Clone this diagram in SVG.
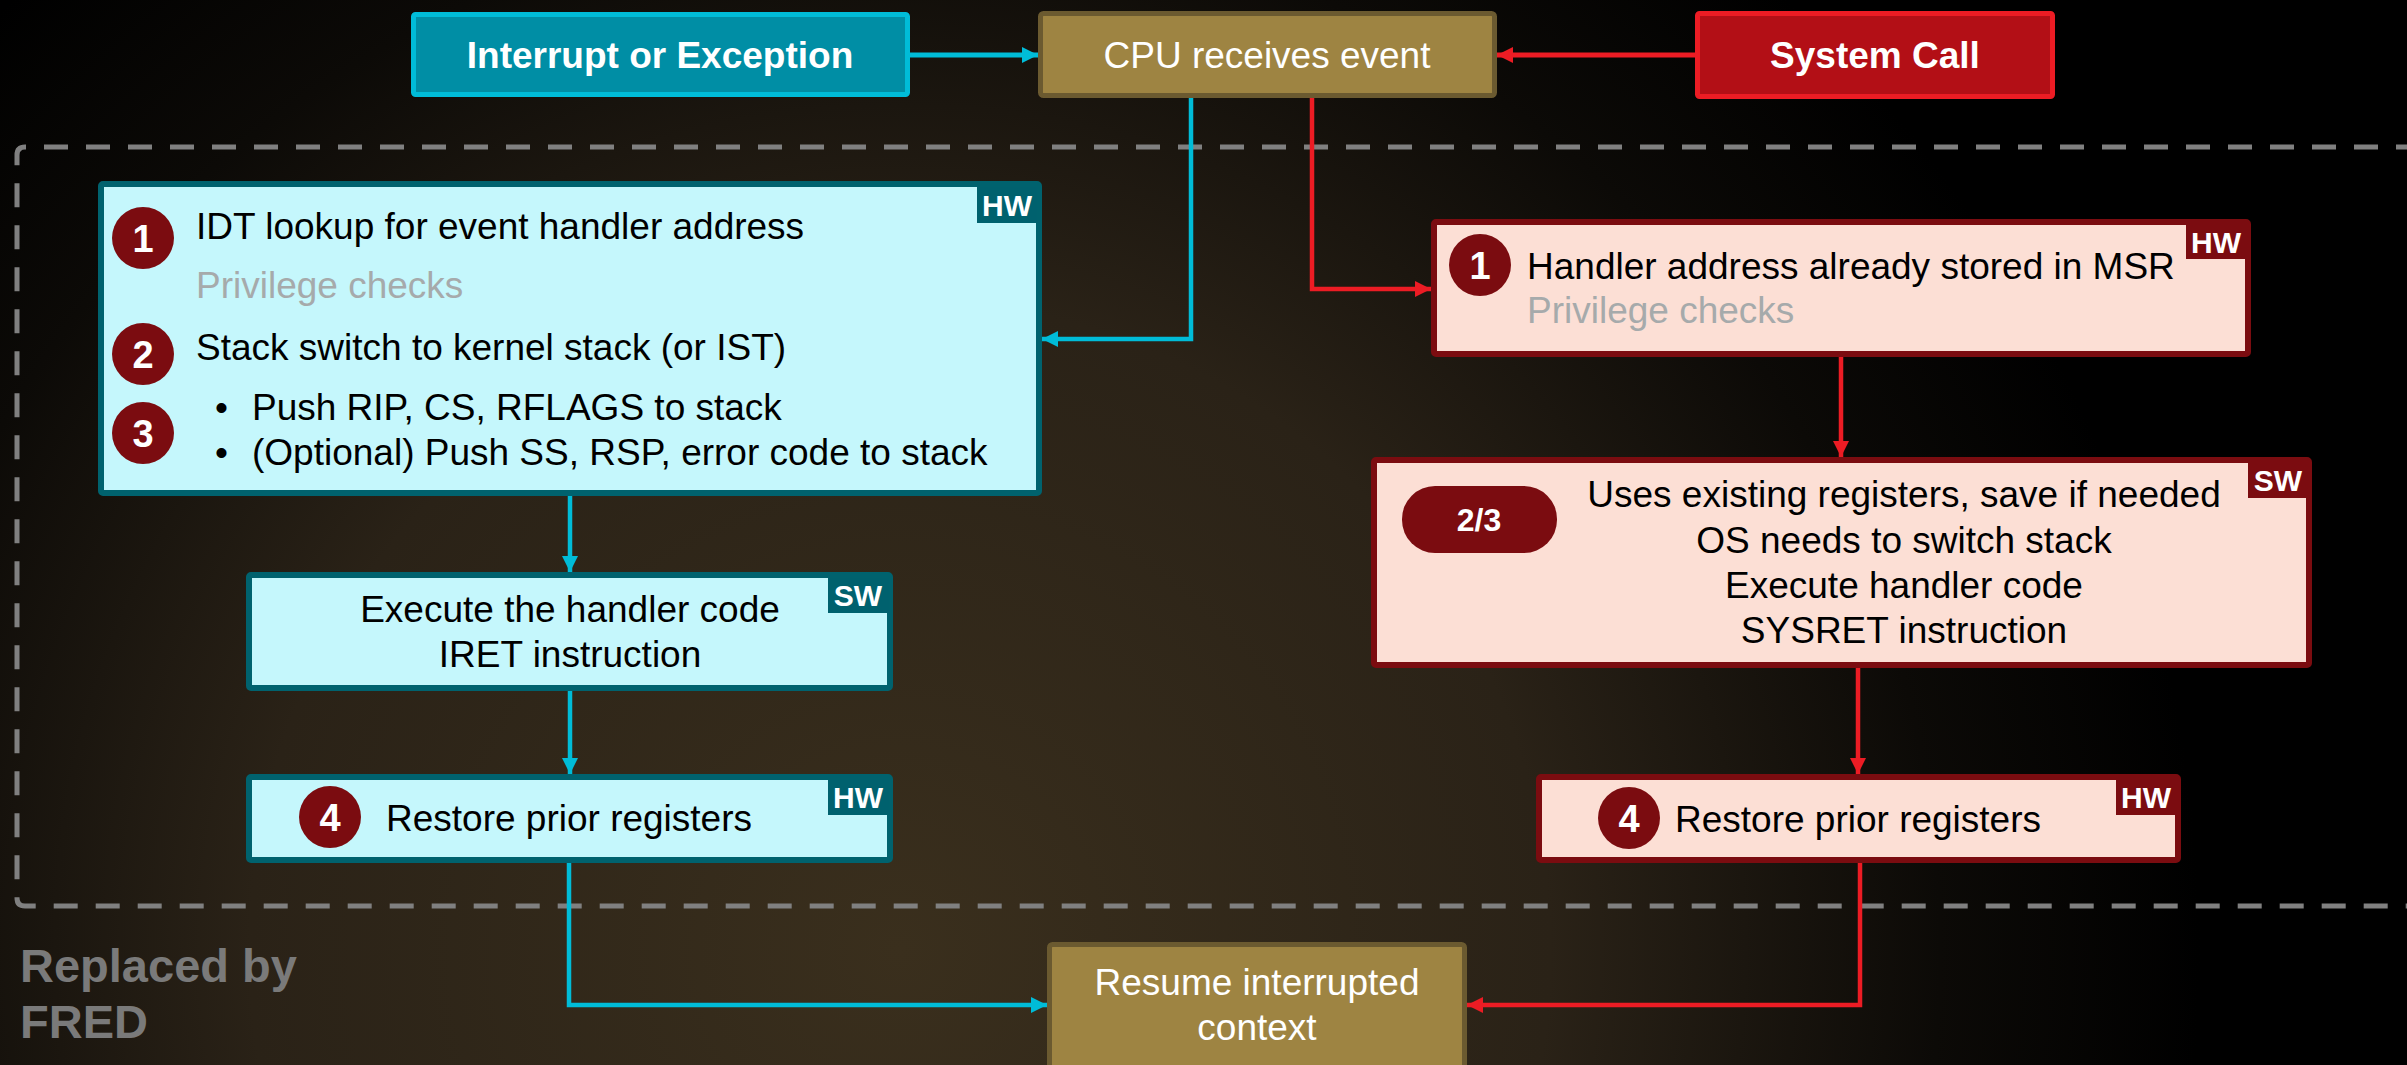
<svg xmlns="http://www.w3.org/2000/svg" width="2407" height="1065" viewBox="0 0 2407 1065">
<defs>
<radialGradient id="bg" gradientUnits="userSpaceOnUse" cx="900" cy="950" r="1300">
<stop offset="0" stop-color="#3a2f1d"/>
<stop offset="0.5" stop-color="#2a2217"/>
<stop offset="0.8" stop-color="#0c0a07"/>
<stop offset="1" stop-color="#000000"/>
</radialGradient>
<marker id="ac" markerUnits="userSpaceOnUse" markerWidth="17" markerHeight="17" refX="16" refY="8" orient="auto"><path d="M0,0 L16,8 L0,16 z" fill="#00bcd8"/></marker>
<marker id="ar" markerUnits="userSpaceOnUse" markerWidth="17" markerHeight="17" refX="16" refY="8" orient="auto"><path d="M0,0 L16,8 L0,16 z" fill="#ec1c24"/></marker>
<style>
text{font-family:"Liberation Sans",Arial,sans-serif}
.body{font-size:37px;fill:#000}
.gray{font-size:37px;fill:#a6aaab}
.num{font-size:38px;font-weight:bold;fill:#fff;text-anchor:middle}
.pill{font-size:32px;font-weight:bold;fill:#fff;text-anchor:middle}
.badge{font-size:30px;font-weight:bold;fill:#fff;text-anchor:middle}
.title{font-size:37px;font-weight:bold;fill:#fff;text-anchor:middle}
.ctr{text-anchor:middle}
.cyanbox{fill:#c5f7fc;stroke:#00626e;stroke-width:6}
.redbox{fill:#fcdfd5;stroke:#7b0c10;stroke-width:6}
.goldbox{fill:#9e8442;stroke:#6b5a30;stroke-width:5}
.cb{fill:#00616e}
.rb{fill:#7b0c10}
.circ{fill:#7b0c10}
.cl{fill:none;stroke:#00bcd8;stroke-width:4.5}
.rl{fill:none;stroke:#ec1c24;stroke-width:4.5}
</style>
</defs>
<rect x="0" y="0" width="2407" height="1065" fill="url(#bg)"/>

<path d="M2420 147 H25 Q17 147 17 155 V898 Q17 906 25 906 H2420" fill="none" stroke="#808080" stroke-width="5" stroke-dasharray="24 18"/>
<text x="20" y="982" font-size="47" font-weight="bold" fill="#7a7a7a">Replaced by</text>
<text x="20" y="1038" font-size="47" font-weight="bold" fill="#7a7a7a">FRED</text>

<g id="connectors">
<path class="cl" d="M910 55 H1038" marker-end="url(#ac)" style="stroke-width:5"/>
<path class="rl" d="M1695 55 H1497" marker-end="url(#ar)" style="stroke-width:5"/>
<path class="cl" d="M1191 98 V339 H1042" marker-end="url(#ac)"/>
<path class="rl" d="M1312 98 V289 H1431" marker-end="url(#ar)"/>
<path class="cl" d="M570 496 V572" marker-end="url(#ac)"/>
<path class="cl" d="M570 691 V774" marker-end="url(#ac)"/>
<path class="cl" d="M569 863 V1005 H1047" marker-end="url(#ac)"/>
<path class="rl" d="M1841 357 V457" marker-end="url(#ar)"/>
<path class="rl" d="M1858 668 V774" marker-end="url(#ar)"/>
<path class="rl" d="M1860 863 V1005 H1467" marker-end="url(#ar)"/>
</g>

<g id="interrupt">
<rect x="413.5" y="14.5" width="494" height="80" rx="2" fill="#008ea5" stroke="#00bcd8" stroke-width="5"/>
<text class="title" x="660" y="68">Interrupt or Exception</text>
</g>

<g id="cpu">
<rect class="goldbox" x="1040.5" y="13.5" width="454" height="82" rx="3"/>
<text class="ctr" x="1267" y="68" font-size="37" fill="#fff">CPU receives event</text>
</g>

<g id="syscall">
<rect x="1697.5" y="13.5" width="355" height="83" rx="2" fill="#b30f16" stroke="#ec1c24" stroke-width="5"/>
<text class="title" x="1875" y="68">System Call</text>
</g>

<g id="idt-hw">
<rect class="cyanbox" x="101" y="184" width="938" height="309" rx="2"/>
<rect class="cb" x="977" y="187" width="60" height="36"/>
<text class="badge" x="1007" y="216">HW</text>
<circle class="circ" cx="143" cy="238" r="31"/>
<text class="num" x="143" y="252">1</text>
<text class="body" x="196" y="239">IDT lookup for event handler address</text>
<text class="gray" x="196" y="298">Privilege checks</text>
<circle class="circ" cx="143" cy="354" r="31"/>
<text class="num" x="143" y="368">2</text>
<text class="body" x="196" y="360">Stack switch to kernel stack (or IST)</text>
<circle class="circ" cx="143" cy="433" r="31"/>
<text class="num" x="143" y="447">3</text>
<text class="body" x="215" y="420">•</text>
<text class="body" x="252" y="420">Push RIP, CS, RFLAGS to stack</text>
<text class="body" x="215" y="465">•</text>
<text class="body" x="252" y="465">(Optional) Push SS, RSP, error code to stack</text>
</g>

<g id="exec-sw">
<rect class="cyanbox" x="249" y="575" width="641" height="113" rx="2"/>
<rect class="cb" x="828" y="578" width="61" height="35"/>
<text class="badge" x="858" y="606">SW</text>
<text class="body ctr" x="570" y="622">Execute the handler code</text>
<text class="body ctr" x="570" y="667">IRET instruction</text>
</g>

<g id="restore-left">
<rect class="cyanbox" x="249" y="777" width="641" height="83" rx="2"/>
<rect class="cb" x="828" y="780" width="61" height="35"/>
<text class="badge" x="858" y="808">HW</text>
<circle class="circ" cx="330" cy="817" r="31"/>
<text class="num" x="330" y="831">4</text>
<text class="body" x="386" y="831">Restore prior registers</text>
</g>

<g id="msr-hw">
<rect class="redbox" x="1434" y="222" width="814" height="132" rx="2"/>
<rect class="rb" x="2186" y="225" width="61" height="34"/>
<text class="badge" x="2216" y="253">HW</text>
<circle class="circ" cx="1480" cy="265" r="31"/>
<text class="num" x="1480" y="279">1</text>
<text class="body" x="1527" y="279">Handler address already stored in MSR</text>
<text class="gray" x="1527" y="323">Privilege checks</text>
</g>

<g id="syscall-sw">
<rect class="redbox" x="1374" y="460" width="935" height="205" rx="2"/>
<rect class="rb" x="2248" y="463" width="60" height="35"/>
<text class="badge" x="2278" y="491">SW</text>
<rect class="circ" x="1402" y="486" width="155" height="67" rx="33"/>
<text class="pill" x="1479" y="531">2/3</text>
<text class="body ctr" x="1904" y="507">Uses existing registers, save if needed</text>
<text class="body ctr" x="1904" y="553">OS needs to switch stack</text>
<text class="body ctr" x="1904" y="598">Execute handler code</text>
<text class="body ctr" x="1904" y="643">SYSRET instruction</text>
</g>

<g id="restore-right">
<rect class="redbox" x="1539" y="777" width="639" height="83" rx="2"/>
<rect class="rb" x="2116" y="780" width="61" height="35"/>
<text class="badge" x="2146" y="808">HW</text>
<circle class="circ" cx="1629" cy="818" r="31"/>
<text class="num" x="1629" y="832">4</text>
<text class="body" x="1675" y="832">Restore prior registers</text>
</g>

<g id="resume">
<rect class="goldbox" x="1049.5" y="944.5" width="415" height="130" rx="3"/>
<text class="ctr" x="1257" y="995" font-size="37" fill="#fff">Resume interrupted</text>
<text class="ctr" x="1257" y="1040" font-size="37" fill="#fff">context</text>
</g>
</svg>
